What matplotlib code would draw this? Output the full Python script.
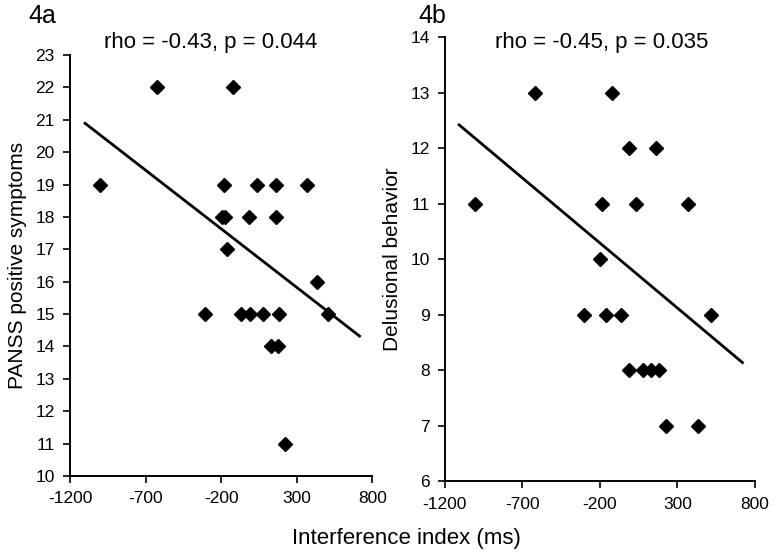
import matplotlib
matplotlib.use('Agg')
from matplotlib import pyplot as plt

plt.rcParams['font.family'] = ['Liberation Sans', 'DejaVu Sans']
plt.rcParams['axes.unicode_minus'] = False

# Panel 4a: interference index vs PANSS positive symptoms
x_a = [-1001, -621, -124, -183, 38, 164, 369, -194, -172, -13, 164, -161, 436,
       -305, -68, -11, 80, 181, 508, 128, 176, 225]
y_a = [19, 22, 22, 19, 19, 19, 19, 18, 18, 18, 18, 17, 16,
       15, 15, 15, 15, 15, 15, 14, 14, 11]
fit_x_a = [-1100, 716]
fit_y_a = [20.89, 14.32]

# Panel 4b: interference index vs delusional behavior
x_b = [-1006, -619, -121, -13, 161, -183, 36, 369, -196, -305, -163, -65, 514,
       -11, 79, 133, 181, 225, 436]
y_b = [11, 13, 13, 12, 12, 11, 11, 11, 10, 9, 9, 9, 9,
       8, 8, 8, 8, 7, 7]
fit_x_b = [-1108, 720]
fit_y_b = [12.42, 8.14]

x_ticks = [-1200, -700, -200, 300, 800]


def style(ax, yticks):
    for s in ['top', 'right']:
        ax.spines[s].set_visible(False)
    for s in ['left', 'bottom']:
        ax.spines[s].set_linewidth(1.4)
    ax.set_xlim(-1200, 800)
    ax.set_xticks(x_ticks)
    ax.set_ylim(yticks[0], yticks[-1])
    ax.set_yticks(yticks)
    ax.tick_params(direction='out', length=5, width=1.2, labelsize=12.5, pad=6)


fig = plt.figure(figsize=(7.75, 5.54), dpi=100)

ax1 = fig.add_axes([0.0903, 0.1408, 0.390, 0.760])
ax1.plot(fit_x_a, fit_y_a, color='black', lw=2)
ax1.plot(x_a, y_a, 'D', color='black', ms=7.5, clip_on=False)
style(ax1, list(range(10, 24)))
ax1.set_ylabel('PANSS positive symptoms', fontsize=15, labelpad=6)

ax2 = fig.add_axes([0.574, 0.131, 0.400, 0.802])
ax2.plot(fit_x_b, fit_y_b, color='black', lw=2)
ax2.plot(x_b, y_b, 'D', color='black', ms=7.5, clip_on=False)
style(ax2, list(range(6, 15)))
ax2.set_ylabel('Delusional behavior', fontsize=15, labelpad=6)

fig.text(0.036, 0.993, '4a', fontsize=18, va='top')
fig.text(0.540, 0.993, '4b', fontsize=18, va='top')
fig.text(0.272, 0.924, 'rho = -0.43, p = 0.044', fontsize=16, ha='center', va='center')
fig.text(0.777, 0.924, 'rho = -0.45, p = 0.035', fontsize=16, ha='center', va='center')
fig.text(0.525, 0.028, 'Interference index (ms)', fontsize=16, ha='center', va='center')

fig.savefig('out.png', dpi=100)
